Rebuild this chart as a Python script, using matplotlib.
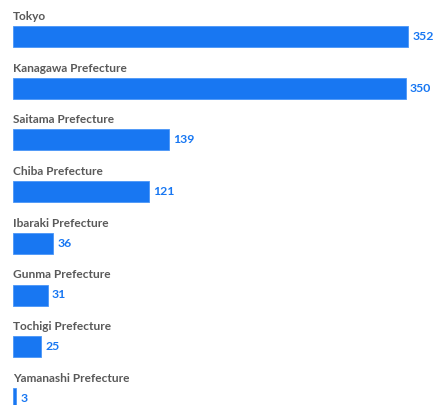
import numpy as np
import matplotlib
matplotlib.use("Agg")
import matplotlib.pyplot as plt

plt.rcParams['font.family'] = ['Lato', 'DejaVu Sans']

# data
prefectures = ["Tokyo", "Kanagawa Prefecture", "Saitama Prefecture", "Chiba Prefecture",
               "Ibaraki Prefecture", "Gunma Prefecture", "Tochigi Prefecture",
               "Yamanashi Prefecture"]
counts = [352, 350, 139, 121, 36, 31, 25, 3]

bar_color = "#1877f2"
label_color = "#595959"

fig = plt.figure(figsize=(4.34, 4.05), dpi=100)
ax = fig.add_axes([0, 0, 1, 1])

y = np.arange(len(prefectures))
px_per_row = 51.7
ax.barh(y, counts, height=21 / px_per_row, color=bar_color,
        edgecolor="#4a96f7", linewidth=0.6)

for yi, name, v in zip(y, prefectures, counts):
    ax.text(0, yi - 20 / px_per_row, name, ha="left", va="center",
            fontsize=8.6, fontweight="bold", color=label_color)
    ax.annotate(str(v), (v, yi), xytext=(3, 0), textcoords="offset points",
                ha="left", va="center", fontsize=8.8, fontweight="bold",
                color=bar_color)

scale = 395 / 352
ax.set_xlim(-13 / scale, (434 - 13) / scale)
ax.set_ylim((405 - 36.5) / px_per_row, -36.5 / px_per_row)
ax.axis("off")

fig.savefig("out.png", dpi=100)
